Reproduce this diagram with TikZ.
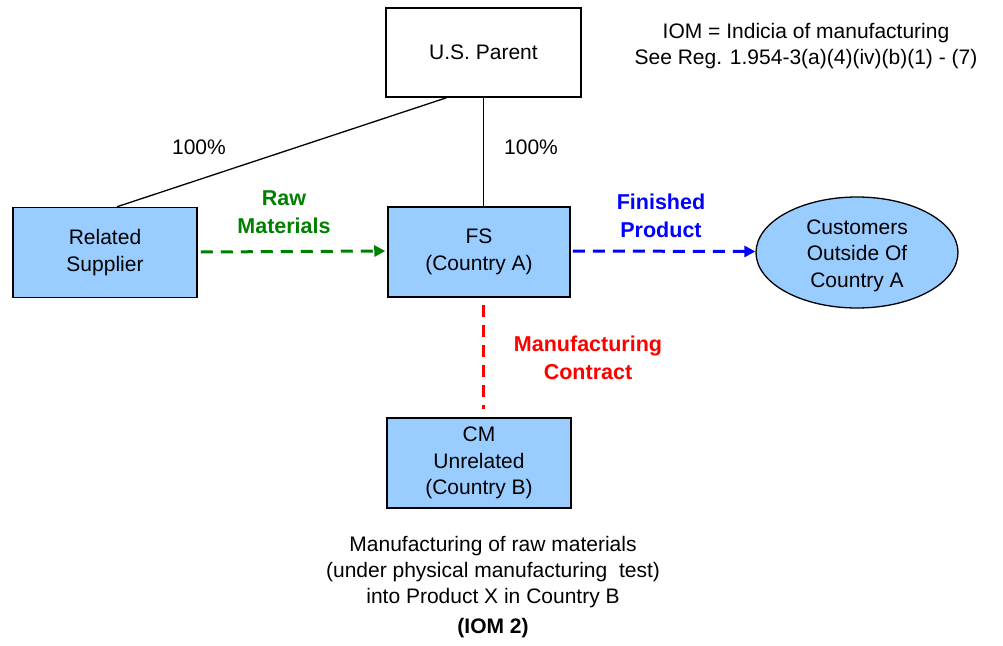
\documentclass[tikz,border=0pt]{standalone}
\usepackage{fontspec}
\setmainfont{Liberation Sans}
\usetikzlibrary{arrows.meta,shapes.geometric}
\definecolor{boxblue}{RGB}{153,204,255}
\definecolor{rawgreen}{RGB}{0,128,0}
\begin{document}
\begin{tikzpicture}[x=1pt,y=-1pt,
  every node/.style={font=\fontsize{21}{26.5}\selectfont, align=center, inner sep=0pt},
  entity/.style={draw=black, line width=1.5pt, fill=boxblue, minimum width=184pt, minimum height=90pt},
  parentbox/.style={entity, fill=white, minimum width=195pt, minimum height=89pt},
  custshape/.style={ellipse, draw=black, line width=1.3pt, fill=boxblue, minimum width=202pt, minimum height=111pt},
  own/.style={line width=1.3pt, draw=black},
  flow/.style={line width=3pt, dash pattern=on 12pt off 8pt, -{Triangle[length=11pt,width=11pt]}},
  flowlbl/.style={font=\fontsize{21.5}{28}\selectfont\bfseries},
  note/.style={font=\fontsize{21}{26}\selectfont}
]
\useasboundingbox (0,0) rectangle (1003,645);
\node[parentbox] (parent) at (483.5,52.5) {U.S. Parent};
\node[entity] (supplier) at (105,252.5) {Related\\Supplier};
\node[entity, minimum width=182pt] (fs) at (479,252) {FS\\(Country A)};
\node[entity] (cm) at (479,463) {CM\\Unrelated\\(Country B)};
\node[custshape] (cust) at (857,252.5) {};
\node (custtext) at ([yshift=-3pt]cust.center) {Customers\\Outside Of\\Country A};

\draw[own] ([xshift=-37pt]parent.south) -- ([xshift=12pt]supplier.north);
\draw[own] ([xshift=0pt]parent.south) -- (parent.south |- fs.north);

\draw[flow, rawgreen] ([xshift=3pt,yshift=0.5pt]supplier.east) -- ([xshift=-2pt,yshift=1pt]fs.west);
\draw[flow, blue] ([xshift=2pt,yshift=1pt]fs.east) -- ([yshift=1pt]cust.west);
\draw[line width=3pt, dash pattern=on 12pt off 8pt, red] ([xshift=4pt,yshift=-7pt]fs.south) -- ([xshift=4pt,yshift=8pt]cm.north);

\node (p1) at (199,147) {100\%};
\node (p2) at (531,147) {100\%};
\node[flowlbl, text=rawgreen] (rawlbl) at (284,212) {Raw\\Materials};
\node[flowlbl, text=blue] (finlbl) at (661,216) {Finished\\Product};
\node[flowlbl, text=red] (mclbl) at (588,358) {Manufacturing\\Contract};
\node[note] (iom) at (806,46) {IOM = Indicia of manufacturing\\See Reg. 1.954-3(a)(4)(iv)(b)(1) - (7)};
\node[note] (desc) at (493,572) {Manufacturing of raw materials\\(under physical manufacturing\ \ test)\\into Product X in Country B};
\node[note, font=\fontsize{21}{26}\selectfont\bfseries] (iom2) at (493,628) {(IOM 2)};
\end{tikzpicture}
\end{document}
